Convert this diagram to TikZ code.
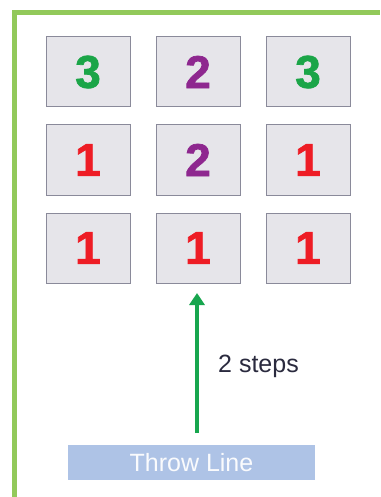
\documentclass[tikz,border=0pt]{standalone}
\usepackage{fontspec}
\setmainfont{Liberation Sans}
\newfontfamily\heavyfont[FakeBold=1.6]{Liberation Sans Bold}
\usetikzlibrary{arrows.meta}
\definecolor{framegreen}{HTML}{92C95A}
\definecolor{boxfill}{HTML}{E6E5EA}
\definecolor{boxdraw}{HTML}{8A8A9A}
\definecolor{numgreen}{HTML}{1BA548}
\definecolor{numpurple}{HTML}{8E278F}
\definecolor{numred}{HTML}{EE1C25}
\definecolor{arrowgreen}{HTML}{17A64E}
\definecolor{throwblue}{HTML}{AEC3E6}
\definecolor{textdark}{HTML}{2A2A3E}
\tikzset{
  tile/.style={draw=boxdraw, line width=1pt, fill=boxfill, minimum width=84pt, minimum height=70pt, inner sep=0pt, font=\fontsize{46}{46}\heavyfont},
  frameline/.style={draw=framegreen, line width=5pt},
}
\begin{document}
\begin{tikzpicture}[x=1pt,y=-1pt]
\useasboundingbox (0,0) rectangle (380,497);
\fill[white] (0,0) rectangle (380,497);
% frame
\draw[frameline] (14.5,497) -- (14.5,12.5) -- (380,12.5);
% row 1
\node[tile, text=numgreen] (a1) at (88,72) {3};
\node[tile, text=numpurple] (a2) at (198,72) {2};
\node[tile, text=numgreen] (a3) at (308,72) {3};
% row 2
\node[tile, text=numred] (b1) at (88,160) {1};
\node[tile, text=numpurple] (b2) at (198,160) {2};
\node[tile, text=numred] (b3) at (308,160) {1};
% row 3
\node[tile, text=numred] (c1) at (88,248) {1};
\node[tile, text=numred] (c2) at (198,248) {1};
\node[tile, text=numred] (c3) at (308,248) {1};
% throw line
\node[fill=throwblue, minimum width=247pt, minimum height=35pt, inner sep=0pt, text=white!94!throwblue, font=\fontsize{25}{25}\selectfont] (throw) at (191.5,462.5) {Throw Line};
\coordinate (tail) at (197,433);
\coordinate (tip) at (197,293);
\draw[arrowgreen, line width=4.5pt, -{Triangle[width=15pt,length=12pt]}] (tail) -- (tip);
\node[anchor=west, text=textdark, font=\fontsize{25}{25}\selectfont, inner sep=0pt] (steps) at (218,366) {2 steps};
\end{tikzpicture}
\end{document}
